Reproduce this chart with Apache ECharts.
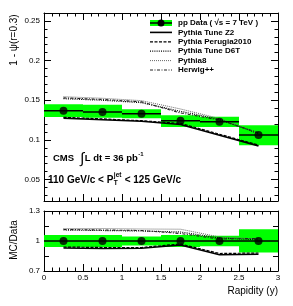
<!DOCTYPE html>
<html><head><meta charset="utf-8">
<script src="https://cdn.jsdelivr.net/npm/echarts@6/dist/echarts.min.js"></script>
<style>html,body{margin:0;padding:0;background:#fff}#c{width:293px;height:306px}</style>
</head><body><div id="c"></div><script>
// ---------------- data ----------------
const rapidity = [0.25, 0.75, 1.25, 1.75, 2.25, 2.75];
const binHalfWidth = 0.25;
const dataValues = [0.1369, 0.1353, 0.1331, 0.1241, 0.1228, 0.1062];
const dataSystLow = [0.1288, 0.1279, 0.1272, 0.1164, 0.1164, 0.0933];
const dataSystHigh = [0.1451, 0.1442, 0.1387, 0.1310, 0.1292, 0.1186];
const pythiaZ2 = [0.1275, 0.1255, 0.1235, 0.1195, 0.1060, 0.0925];
const pythiaPerugia = [0.1285, 0.1265, 0.1242, 0.1208, 0.1072, 0.0935];
const pythiaD6T = [0.1520, 0.1500, 0.1470, 0.1360, 0.1260, 0.1080];
const pythia8 = [0.1545, 0.1525, 0.1495, 0.1390, 0.1270, 0.1085];
const herwig = [0.1530, 0.1510, 0.1480, 0.1340, 0.1250, 0.1090];
// ratio panel
const ratioData = [1, 1, 1, 1, 1, 1];
const ratioBandLow = [0.940, 0.940, 0.955, 0.940, 0.948, 0.885];
const ratioBandHigh = [1.060, 1.060, 1.045, 1.060, 1.052, 1.117];
const ratioZ2 = [0.930, 0.925, 0.928, 0.960, 0.862, 0.868];
const ratioPerugia = [0.940, 0.935, 0.935, 0.970, 0.875, 0.880];
const ratioD6T = [1.110, 1.105, 1.100, 1.090, 1.030, 1.012];
const ratio8 = [1.125, 1.125, 1.120, 1.118, 1.040, 1.020];
const ratioHerwig = [1.115, 1.110, 1.105, 1.075, 1.020, 1.025];
// ticks
const xTickLabels = [0, 0.5, 1, 1.5, 2, 2.5, 3];
const topYLabels = [0.05, 0.1, 0.15, 0.2, 0.25];
const topYMinor = [0.03,0.04,0.06,0.07,0.08,0.09,0.11,0.12,0.13,0.14,0.16,0.17,0.18,0.19,0.21,0.22,0.23,0.24];
const ratioYLabels = [0.7, 1, 1.3];
const ratioYTicks = [0.85, 1, 1.15];

const FONT = '"Liberation Sans", Arial, sans-serif';
const chart = echarts.init(document.getElementById('c'), null, {renderer: 'canvas'});
const mctx = document.createElement('canvas').getContext('2d');
function tw(text, font) { mctx.font = font; return mctx.measureText(text).width; }

const fmt = v => String(parseFloat(Number(v).toFixed(3)));

function xAx(grid, pos, showLabel) {
  return {
    type: 'value', gridIndex: grid, position: pos, min: 0, max: 3, interval: 0.5,
    axisLine: {show: true, onZero: false, lineStyle: {color: '#000', width: 1}},
    axisTick: {show: true, inside: true, length: 7, lineStyle: {color: '#000'}},
    minorTick: {show: true, splitNumber: 5, length: 3.5, lineStyle: {color: '#000'}},
    axisLabel: {show: showLabel, margin: 3, fontSize: 8, color: '#000', fontFamily: FONT,
      formatter: fmt, customValues: xTickLabels},
    splitLine: {show: false}, minorSplitLine: {show: false}
  };
}
function yAx(grid, pos, min, max, labels, ticks, len, showLabel, showLine) {
  return {
    type: 'value', gridIndex: grid, position: pos, min: min, max: max,
    axisLine: {show: showLine, onZero: false, lineStyle: {color: '#000', width: 1}},
    axisTick: {show: true, inside: true, length: len, lineStyle: {color: '#000'}, customValues: ticks},
    axisLabel: {show: showLabel, margin: 4, fontSize: 8, color: '#000', fontFamily: FONT,
      formatter: fmt, customValues: labels || ticks},
    splitLine: {show: false}
  };
}

function bandSeries(xi, yi, lows, highs) {
  return {
    type: 'custom', xAxisIndex: xi, yAxisIndex: yi, silent: true, z: 1, clip: true,
    data: rapidity.map((x, i) => [x, lows[i], highs[i]]),
    renderItem: (params, api) => {
      const x = api.value(0), lo = api.value(1), hi = api.value(2);
      const p1 = api.coord([x - binHalfWidth, hi]);
      const p2 = api.coord([x + binHalfWidth, lo]);
      return {type: 'rect', shape: {x: p1[0], y: p1[1], width: p2[0] - p1[0], height: p2[1] - p1[1]},
        style: {fill: '#00ff00'}};
    }
  };
}
function barSeries(xi, yi, vals) {
  return {
    type: 'custom', xAxisIndex: xi, yAxisIndex: yi, silent: true, z: 5,
    data: rapidity.map((x, i) => [x, vals[i]]),
    renderItem: (params, api) => {
      const x = api.value(0), v = api.value(1);
      const p1 = api.coord([x - binHalfWidth, v]);
      const p2 = api.coord([x + binHalfWidth, v]);
      return {type: 'line', shape: {x1: p1[0], y1: p1[1], x2: p2[0], y2: p2[1]},
        style: {stroke: '#000', lineWidth: 1.5}};
    }
  };
}
function pointSeries(xi, yi, vals) {
  return {type: 'scatter', xAxisIndex: xi, yAxisIndex: yi, silent: true, z: 6, symbolSize: 8,
    itemStyle: {color: '#000'}, data: rapidity.map((x, i) => [x, vals[i]])};
}
const styles = {
  z2: {color: '#000', width: 1.6, type: 'solid'},
  perugia: {color: '#000', width: 1.2, type: [3, 1.5]},
  d6t: {color: '#000', width: 1.2, type: [1, 1.2]},
  p8: {color: '#666', width: 1, type: [1, 1]},
  herwig: {color: '#222', width: 1.1, type: [3, 1.5, 1, 1.5]}
};
function mcSeries(xi, yi, vals, st) {
  return {type: 'line', xAxisIndex: xi, yAxisIndex: yi, silent: true, z: 3, showSymbol: false,
    symbol: 'none', lineStyle: {color: st.color, width: st.width, type: st.type},
    data: rapidity.map((x, i) => [x, vals[i]])};
}

// ---------- graphics (legend, labels) ----------
const g = [];
const LF = 'bold 8px ' + FONT;
const legendRows = [
  {name: 'pp Data ( \u221As = 7 TeV )', kind: 'data'},
  {name: 'Pythia Tune Z2', st: styles.z2},
  {name: 'Pythia Perugia2010', st: styles.perugia},
  {name: 'Pythia Tune D6T', st: styles.d6t},
  {name: 'Pythia8', st: styles.p8},
  {name: 'Herwig++', st: styles.herwig}
];
legendRows.forEach((r, i) => {
  const y = 23 + i * 9.4;
  if (r.kind === 'data') {
    g.push({type: 'rect', shape: {x: 150, y: y - 3, width: 22, height: 6}, style: {fill: '#00ff00'}});
    g.push({type: 'line', shape: {x1: 150, y1: y, x2: 172, y2: y}, style: {stroke: '#000', lineWidth: 1.5}});
    g.push({type: 'circle', shape: {cx: 161, cy: y, r: 3.5}, style: {fill: '#000'}});
  } else {
    g.push({type: 'line', shape: {x1: 150, y1: y, x2: 172, y2: y},
      style: {stroke: r.st.color, lineWidth: r.st.width, lineDash: r.st.type === 'solid' ? null : r.st.type}});
  }
  g.push({type: 'text', x: 178, y: y, style: {text: r.name, font: LF, fill: '#000', textVerticalAlign: 'middle'}});
});

// CMS line
const BF = 'bold 9.5px ' + FONT;
let cx = 53;
g.push({type: 'text', x: cx, y: 158, style: {text: 'CMS', font: BF, fill: '#000', textVerticalAlign: 'middle'}});
cx += tw('CMS', BF) + 6;
g.push({type: 'text', x: cx, y: 159, style: {text: '\u222B', font: '15px ' + FONT, fill: '#000', textVerticalAlign: 'middle'}});
cx += tw('\u222B', '15px ' + FONT) + 0.5;
g.push({type: 'text', x: cx, y: 158, style: {text: 'L dt = 36 pb', font: BF, fill: '#000', textVerticalAlign: 'middle'}});
cx += tw('L dt = 36 pb', BF) + 0.5;
g.push({type: 'text', x: cx, y: 154, style: {text: '-1', font: 'bold 6px ' + FONT, fill: '#000', textVerticalAlign: 'middle'}});

// pT line
const PF = 'bold 10px ' + FONT;
const SF = 'bold 6.5px ' + FONT;
let px = 48;
g.push({type: 'text', x: px, y: 180, style: {text: '110 GeV/c < P', font: PF, fill: '#000', textVerticalAlign: 'middle'}});
px += tw('110 GeV/c < P', PF) + 0.5;
g.push({type: 'text', x: px, y: 183.5, style: {text: 'T', font: SF, fill: '#000', textVerticalAlign: 'middle'}});
g.push({type: 'text', x: px, y: 175, style: {text: 'jet', font: SF, fill: '#000', textVerticalAlign: 'middle'}});
px += Math.max(tw('T', SF), tw('jet', SF)) + 0.5;
g.push({type: 'text', x: px, y: 180, style: {text: ' < 125 GeV/c', font: PF, fill: '#000', textVerticalAlign: 'middle'}});

// axis titles
g.push({type: 'text', x: 14, y: 40, rotation: Math.PI / 2,
  style: {text: '1 - \u03C8(r=0.3)', font: '10px ' + FONT, fill: '#000', textAlign: 'center', textVerticalAlign: 'middle'}});
g.push({type: 'text', x: 14, y: 240, rotation: Math.PI / 2,
  style: {text: 'MC/Data', font: '10px ' + FONT, fill: '#000', textAlign: 'center', textVerticalAlign: 'middle'}});
g.push({type: 'text', x: 278, y: 291,
  style: {text: 'Rapidity (y)', font: '10px ' + FONT, fill: '#000', textAlign: 'right', textVerticalAlign: 'middle'}});

const option = {
  animation: false,
  backgroundColor: '#fff',
  grid: [
    {left: 44, top: 13, width: 234, height: 188, containLabel: false},
    {left: 44, top: 211, width: 234, height: 60, containLabel: false}
  ],
  xAxis: [
    xAx(0, 'bottom', false), xAx(0, 'top', false),
    xAx(1, 'bottom', true), xAx(1, 'top', false)
  ],
  yAxis: [
    yAx(0, 'left', 0.023, 0.26, topYLabels, topYLabels, 7, true, true),   // 0
    yAx(0, 'left', 0.023, 0.26, null, topYMinor, 3.5, false, false),      // 1
    yAx(0, 'right', 0.023, 0.26, topYLabels, topYLabels, 7, false, true), // 2
    yAx(0, 'right', 0.023, 0.26, null, topYMinor, 3.5, false, false),     // 3
    yAx(1, 'left', 0.7, 1.3, ratioYLabels, ratioYTicks, 5, true, true),   // 4
    yAx(1, 'right', 0.7, 1.3, ratioYLabels, ratioYTicks, 5, false, true)  // 5
  ],
  series: [
    bandSeries(0, 0, dataSystLow, dataSystHigh),
    mcSeries(0, 0, pythiaZ2, styles.z2),
    mcSeries(0, 0, pythiaPerugia, styles.perugia),
    mcSeries(0, 0, pythiaD6T, styles.d6t),
    mcSeries(0, 0, pythia8, styles.p8),
    mcSeries(0, 0, herwig, styles.herwig),
    barSeries(0, 0, dataValues),
    pointSeries(0, 0, dataValues),
    bandSeries(2, 4, ratioBandLow, ratioBandHigh),
    mcSeries(2, 4, ratioZ2, styles.z2),
    mcSeries(2, 4, ratioPerugia, styles.perugia),
    mcSeries(2, 4, ratioD6T, styles.d6t),
    mcSeries(2, 4, ratio8, styles.p8),
    mcSeries(2, 4, ratioHerwig, styles.herwig),
    barSeries(2, 4, ratioData),
    pointSeries(2, 4, ratioData)
  ],
  graphic: g
};
chart.setOption(option);
</script></body></html>
